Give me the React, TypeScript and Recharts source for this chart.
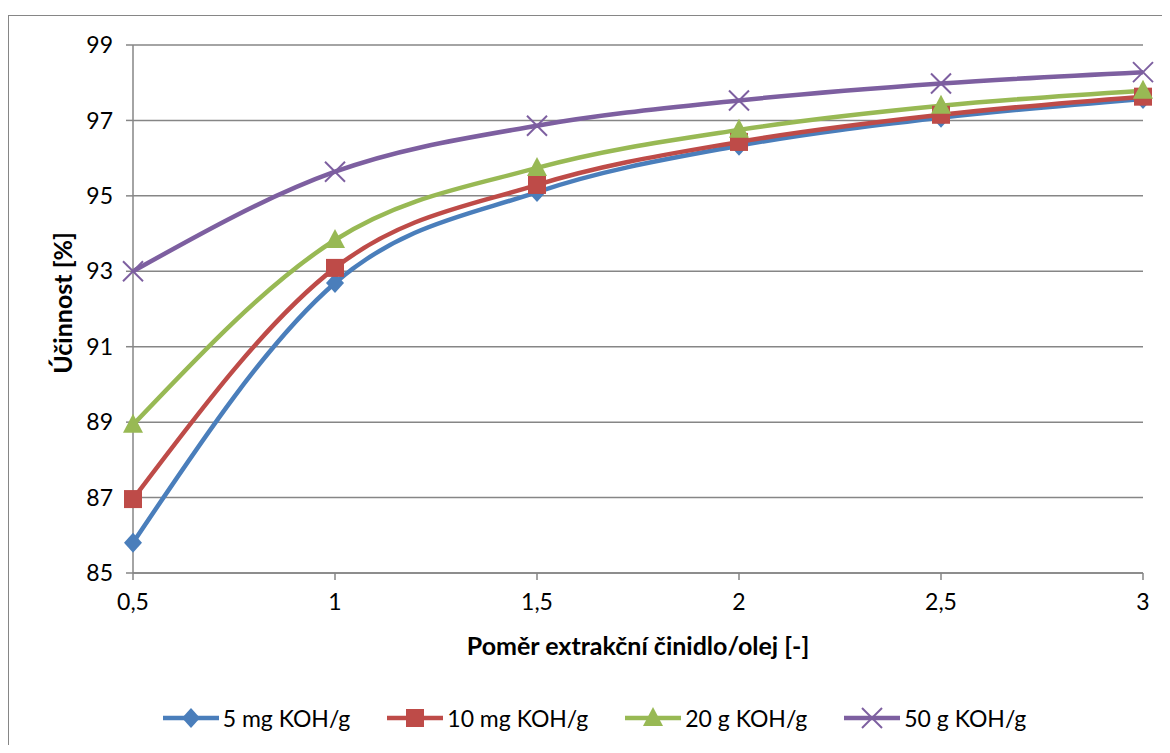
import React from "react";
import { LineChart, Line, XAxis, YAxis, CartesianGrid, Label } from "recharts";

const ratios = ["0,5", "1", "1,5", "2", "2,5", "3"];
const yTicks = [85, 87, 89, 91, 93, 95, 97, 99];

const koh5 = [85.8, 92.69, 95.1, 96.33, 97.07, 97.57];
const koh10 = [86.96, 93.09, 95.29, 96.43, 97.15, 97.63];
const koh20 = [88.93, 93.83, 95.74, 96.75, 97.39, 97.79];
const koh50 = [93.0, 95.64, 96.86, 97.53, 97.98, 98.28];

const series = [
  { key: "a", name: "5 mg KOH/g", color: "#4A7EBB", shape: "diamond", values: koh5 },
  { key: "b", name: "10 mg KOH/g", color: "#BE4B48", shape: "square", values: koh10 },
  { key: "c", name: "20 g KOH/g", color: "#98B954", shape: "triangle", values: koh20 },
  { key: "d", name: "50 g KOH/g", color: "#7D5FA0", shape: "cross", values: koh50 },
];

const data = ratios.map((r, i) => {
  const row: any = { ratio: r };
  series.forEach((s) => (row[s.key] = s.values[i]));
  return row;
});

const FONT = "Lato, 'Open Sans', sans-serif";

function Marker({ cx, cy, shape, color }: any) {
  if (cx == null || cy == null) return null;
  if (shape === "diamond")
    return <polygon points={`${cx},${cy - 10} ${cx + 9},${cy} ${cx},${cy + 10} ${cx - 9},${cy}`} fill={color} />;
  if (shape === "square") return <rect x={cx - 9} y={cy - 9} width={18} height={18} fill={color} />;
  if (shape === "triangle")
    return <polygon points={`${cx},${cy - 11} ${cx + 10},${cy + 8} ${cx - 10},${cy + 8}`} fill={color} />;
  return (
    <g stroke={color} strokeWidth={2}>
      <line x1={cx - 10} y1={cy - 10} x2={cx + 10} y2={cy + 10} />
      <line x1={cx - 10} y1={cy + 10} x2={cx + 10} y2={cy - 10} />
    </g>
  );
}

function LegendRow() {
  return (
    <div
      style={{
        position: "absolute",
        top: 702,
        left: 0,
        width: 1170,
        display: "flex",
        justifyContent: "center",
        gap: 36,
        fontFamily: FONT,
        fontSize: 23,
        color: "#000",
        paddingLeft: 18,
        boxSizing: "border-box",
      }}
    >
      {series.map((s) => (
        <div key={s.key} style={{ display: "flex", alignItems: "center" }}>
          <svg width={58} height={32}>
            <line x1={1} y1={16} x2={57} y2={16} stroke={s.color} strokeWidth={4.5} />
            <Marker cx={29} cy={16} shape={s.shape} color={s.color} />
          </svg>
          <span style={{ marginLeft: 3 }}>{s.name}</span>
        </div>
      ))}
    </div>
  );
}

export default function App() {
  return (
    <div style={{ position: "relative", margin: -8, width: 1170, height: 753, overflow: "hidden", background: "#fff" }}>
      <div
        style={{
          position: "absolute",
          left: 8,
          top: 15,
          width: 1200,
          height: 800,
          borderLeft: "1.5px solid #868686",
          borderTop: "1.5px solid #868686",
        }}
      />
      <div style={{ position: "absolute", left: 0, top: 0 }}>
        <LineChart
          width={1170}
          height={753}
          data={data}
          margin={{ top: 45, right: 27, bottom: 100, left: 33 }}
          style={{ fontFamily: FONT }}
        >
          <CartesianGrid vertical={false} stroke="#868686" strokeWidth={1.5} />
          <XAxis
            dataKey="ratio"
            padding={{ left: 0, right: 0 }}
            height={80}
            tickSize={7}
            tickMargin={14}
            tick={{ fill: "#000", fontSize: 23 }}
            stroke="#868686"
            strokeWidth={1.5}
            interval={0}
          >
            <Label
              value="Poměr extrakční činidlo/olej [-]"
              position="insideBottom"
              offset={-2}
              style={{ fontWeight: 700, fontSize: 25, fill: "#000" }}
            />
          </XAxis>
          <YAxis
            domain={[85, 99]}
            ticks={yTicks}
            width={100}
            tickSize={7}
            tickMargin={13}
            tick={{ fill: "#000", fontSize: 23 }}
            stroke="#868686"
            strokeWidth={1.5}
            allowDataOverflow
          >
            <Label
              value="Účinnost [%]"
              angle={-90}
              position="insideLeft"
              offset={30}
              dy={-6}
              style={{ fontWeight: 700, fontSize: 25, fill: "#000", textAnchor: "middle" }}
            />
          </YAxis>
          {series.map((s) => (
            <Line
              key={s.key}
              dataKey={s.key}
              name={s.name}
              type="monotone"
              stroke={s.color}
              strokeWidth={4.5}
              isAnimationActive={false}
              dot={(p: any) => <Marker key={`${s.key}-${p.index}`} cx={p.cx} cy={p.cy} shape={s.shape} color={s.color} />}
              activeDot={false}
            />
          ))}
        </LineChart>
      </div>
      <LegendRow />
    </div>
  );
}
